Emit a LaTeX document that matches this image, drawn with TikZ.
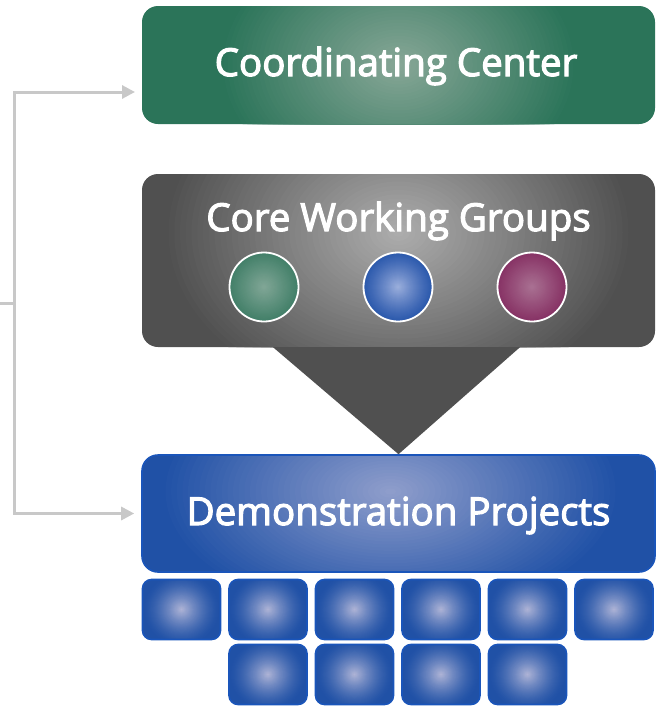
\documentclass[tikz,border=0pt]{standalone}
\usepackage{fontspec}
\setmainfont{Open Sans}
\newfontfamily\labelfont{Open Sans}[FakeBold=3]
\usetikzlibrary{arrows.meta,calc}
\definecolor{ccdark}{HTML}{2B7459}
\definecolor{cclight}{HTML}{86A696}
\definecolor{gdark}{HTML}{505050}
\definecolor{glight}{HTML}{ACACAC}
\definecolor{bdark}{HTML}{2051A6}
\definecolor{brim}{HTML}{1A55BA}
\definecolor{blight}{HTML}{8E9DCB}
\definecolor{slight}{HTML}{ADB3D6}
\definecolor{cgdark}{HTML}{2E735A}
\definecolor{cglight}{HTML}{80A696}
\definecolor{cbdark}{HTML}{2050A8}
\definecolor{cblight}{HTML}{9AAEDC}
\definecolor{cmdark}{HTML}{7C1E56}
\definecolor{cmlight}{HTML}{A97092}
\definecolor{conngray}{HTML}{C8C8C8}
% stepped elliptical glow: centre, x radius, y radius, inner colour, outer colour, exponent
\newcommand{\mkglow}[6]{%
  \foreach \k in {1,...,40}{%
    \pgfmathsetmacro{\gf}{1-(\k-1)/40}%
    \pgfmathsetmacro{\gp}{100*(\k/40)^#6}%
    \fill[#4!\gp!#5] (#1) ellipse [x radius=\gf*#2pt, y radius=\gf*#3pt];%
  }%
}
\begin{document}
\begin{tikzpicture}[x=1pt,y=-1pt,
  bigbox/.style={rounded corners=16pt, minimum width=513pt, inner sep=0pt, draw=none},
  smallbox/.style={rounded corners=9pt, minimum width=78pt, minimum height=60pt, inner sep=0pt, fill=bdark,
    draw=brim, line width=1.6pt,
    path picture={\mkglow{path picture bounding box.center}{38}{36}{slight}{bdark}{1.5}}},
  dot/.style={circle, minimum size=69pt, inner sep=0pt, draw=white, line width=1.8pt},
  label/.style={anchor=base, text=white, font=\labelfont\fontsize{38.5}{40}\selectfont},
  conn/.style={draw=conngray, line width=3pt}
]
\useasboundingbox (0,0) rectangle (660,707);
\fill[white] (0,0) rectangle (660,707);

% Coordinating Center
\node[bigbox, minimum height=118pt, fill=ccdark,
  path picture={\mkglow{path picture bounding box.center}{175}{130}{cclight}{ccdark}{1}}]
  (cc) at (398.5,65) {};
\node[label] (cctext) at (396,76) {Coordinating Center};

% Core Working Groups
\node[bigbox, minimum height=173pt, fill=gdark,
  path picture={\mkglow{$(path picture bounding box.center)+(0,-28)$}{230}{170}{glight}{gdark}{1}}]
  (cwg) at (398.5,260.5) {};
\node[label] (cwgtext) at (398.5,231) {Core Working Groups};

\node[dot, fill=cgdark, path picture={\mkglow{path picture bounding box.center}{44}{44}{cglight}{cgdark}{1}}] (c1) at (264,287) {};
\node[dot, fill=cbdark, path picture={\mkglow{path picture bounding box.center}{40}{40}{cblight}{cbdark}{1.3}}] (c2) at (398,287) {};
\node[dot, fill=cmdark, path picture={\mkglow{path picture bounding box.center}{44}{44}{cmlight}{cmdark}{1}}] (c3) at (532,287) {};

% Demonstration Projects
\node[bigbox, minimum height=117pt, fill=bdark, draw=brim, line width=1.6pt,
  path picture={\mkglow{$(path picture bounding box.center)+(-8,-22)$}{225}{125}{blight}{bdark}{1}}]
  (dp) at (398.5,513.5) {};
\node[label] (dptext) at (398.5,525) {Demonstration Projects};

% callout triangle
\fill[gdark] ($(cwg.south)+(-125.5,0)$) -- ($(cwg.south)+(121.5,0)$) -- (dp.north) -- cycle;

% small project boxes
\foreach \i in {0,...,5} {
  \node[smallbox] (sa\i) at ({181.5+86.5*\i},609.5) {};
}
\foreach \i in {1,...,4} {
  \node[smallbox] (sb\i) at ({181.5+86.5*\i},674.5) {};
}

% connectors
\coordinate (src) at (0,303);
\coordinate (jn) at (14,303);
\coordinate (cct) at (142,92);
\draw[conn] (src) -- (jn);
\draw[conn, -{Triangle[length=13pt,width=13pt]}, shorten >=7pt] (jn) |- (cct);
\draw[conn, -{Triangle[length=13pt,width=13pt]}, shorten >=7pt] (jn) |- (dp.west);
\end{tikzpicture}
\end{document}
